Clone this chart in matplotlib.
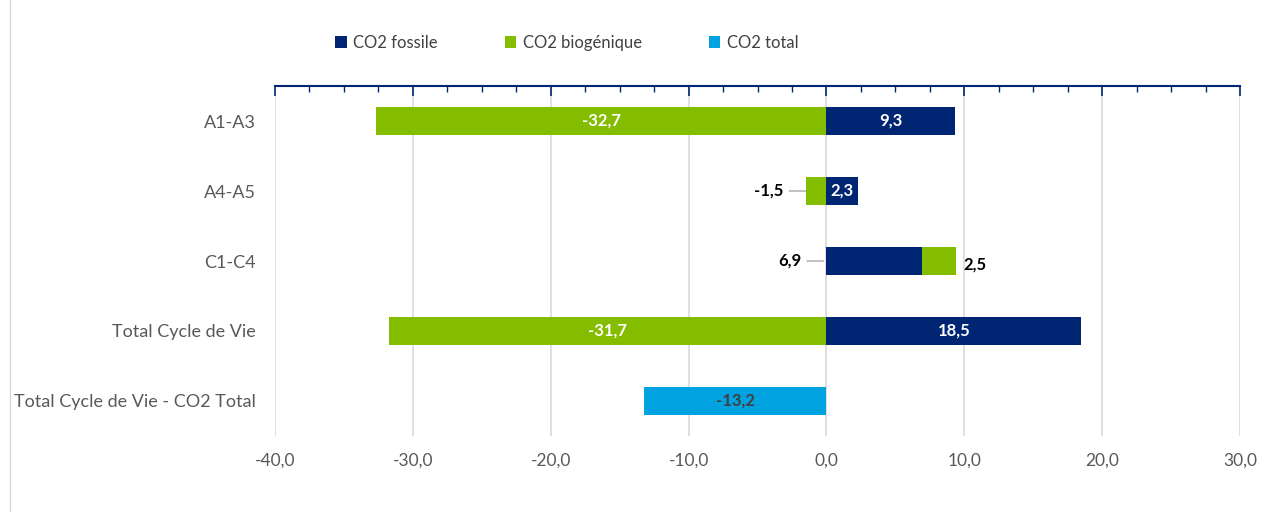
import numpy as np
import matplotlib
matplotlib.use("Agg")
import matplotlib.pyplot as plt
from matplotlib.ticker import MultipleLocator, FuncFormatter
from matplotlib.lines import Line2D

plt.rcParams["font.family"] = ["Lato", "DejaVu Sans"]

categories = ["A1-A3", "A4-A5", "C1-C4", "Total Cycle de Vie", "Total Cycle de Vie - CO2 Total"]
fossile = [9.3, 2.3, 6.9, 18.5, 0.0]
biogenique = [-32.7, -1.5, 2.5, -31.7, 0.0]
total = [0.0, 0.0, 0.0, 0.0, -13.2]

c_fos = "#002673"
c_bio = "#84BD00"
c_tot = "#00A3E0"
c_txt = "#595959"

fig = plt.figure(figsize=(12.71, 5.21), dpi=100)
ax = fig.add_axes([275 / 1271, 1 - 436 / 521, (1240 - 275) / 1271, 350 / 521])

y = np.arange(len(categories))
h = 0.4
fos = np.array(fossile)
bio = np.array(biogenique)
# biogénique empilé sur fossile quand les deux sont positifs
bio_left = np.where(bio > 0, fos, 0)

ax.barh(y, fos, height=h, color=c_fos, label="CO2 fossile", zorder=3)
ax.barh(y, bio, left=bio_left, height=h, color=c_bio, label="CO2 biogénique", zorder=3)
ax.barh(y, total, height=h, color=c_tot, label="CO2 total", zorder=3)

fmt = lambda v: f"{v:.1f}".replace(".", ",")
bold = dict(fontsize=12, fontweight="bold", va="center")

# étiquettes des valeurs
for i in range(len(categories)):
    f, b, t = fos[i], bio[i], total[i]
    if f != 0:
        if b > 0:
            ax.annotate(fmt(f), xy=(0, i), xytext=(-1.8, i), ha="right", color="black",
                        arrowprops=dict(arrowstyle="-", color="#A6A6A6", lw=1,
                                        shrinkA=2, shrinkB=2), **bold, zorder=4)
        else:
            ax.text(f / 2, i, fmt(f), ha="center", color="white", **bold, zorder=4)
    if b != 0:
        if b < -5:
            ax.text(b / 2, i, fmt(b), ha="center", color="white", **bold, zorder=4)
        elif b < 0:
            ax.annotate(fmt(b), xy=(b, i), xytext=(b - 1.6, i), ha="right", color="black",
                        arrowprops=dict(arrowstyle="-", color="#A6A6A6", lw=1,
                                        shrinkA=2, shrinkB=0), **bold, zorder=4)
        else:
            ax.text(bio_left[i] + b + 0.5, i + 0.05, fmt(b), ha="left", color="black", **bold, zorder=4)
    if t != 0:
        ax.text(t / 2, i, fmt(t), ha="center", color="#404040", **bold, zorder=4)

ax.set_xlim(-40, 30)
ax.set_ylim(len(categories) - 0.5, -0.5)
ax.set_yticks(y)
ax.set_yticklabels(categories, fontsize=13, color=c_txt)

ax.xaxis.set_major_locator(MultipleLocator(10))
ax.xaxis.set_minor_locator(MultipleLocator(2.5))
ax.xaxis.set_major_formatter(FuncFormatter(lambda v, p: fmt(v)))
ax.tick_params(axis="x", which="both", bottom=False, top=True, direction="in",
               color=c_fos, labelsize=12.5, labelcolor=c_txt, pad=12)
ax.tick_params(axis="x", which="major", length=7, width=1.2)
ax.tick_params(axis="x", which="minor", length=4, width=1)
ax.tick_params(axis="y", length=0, pad=14)

ax.grid(axis="x", which="major", color="#D9D9D9", lw=1.2, zorder=0)
for s in ["left", "right", "bottom"]:
    ax.spines[s].set_visible(False)
ax.spines["top"].set_color(c_fos)
ax.spines["top"].set_linewidth(1.5)

fig.legend(loc="center", bbox_to_anchor=(0.446, 0.918), ncol=3, frameon=False,
           fontsize=12, handlelength=0.7, handleheight=0.7, handletextpad=0.4,
           columnspacing=4.0, labelcolor="#404040")

fig.add_artist(Line2D([10 / 1271, 10 / 1271], [0.02, 1.0], color="#D9D9D9", lw=1))

fig.savefig("out.png", dpi=100)
